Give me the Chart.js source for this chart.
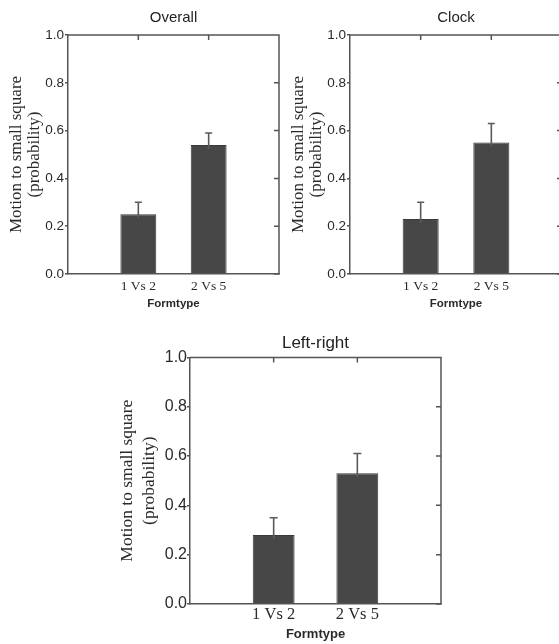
<!DOCTYPE html>
<html>
<head>
<meta charset="utf-8">
<script src="https://cdn.jsdelivr.net/npm/chart.js@4.4.0/dist/chart.umd.min.js"></script>
<style>
    html, body { margin: 0; padding: 0; background: #fff; overflow: hidden; }
    body { width: 559px; height: 644px; position: relative; }
    .panel { position: absolute; }
</style>
</head>
<body>
<div class="panel" style="left:0px;top:0px;width:290px;height:312px"><canvas id="overallChart"></canvas></div>
<div class="panel" style="left:280px;top:0px;width:292px;height:312px"><canvas id="clockChart"></canvas></div>
<div class="panel" style="left:100px;top:320px;width:360px;height:324px"><canvas id="leftRightChart"></canvas></div>
<script>
// data
const categories = ['1 Vs 2', '2 Vs 5'];
const yTicks = [0.0, 0.2, 0.4, 0.6, 0.8, 1.0];
const yLabel = ['Motion to small square', '(probability)'];
const xLabel = 'Formtype';

const overallMean = [0.25, 0.54];
const overallErrTop = [0.30, 0.59];
const clockMean = [0.23, 0.55];
const clockErrTop = [0.30, 0.63];
const leftRightMean = [0.28, 0.53];
const leftRightErrTop = [0.35, 0.61];

const SANS = "'Liberation Sans', Arial, sans-serif";
const SERIF = "'Liberation Serif', 'Times New Roman', serif";
const AXIS = '#555';
const INK = '#2a2a2a';

// empty slots on both sides so the two bars sit at 1/3 and 2/3 of the box
const slotLabels = ['', ...categories, ''];
const pad = arr => [null, ...arr, null];

// box frame (top + right), inward ticks, error bars
const framePlugin = {
    id: 'frame',
    afterDatasetsDraw(chart, args, opts) {
        const { ctx, chartArea: a, scales: { x, y } } = chart;
        ctx.save();
        ctx.strokeStyle = AXIS;
        ctx.lineWidth = 1.5;
        ctx.beginPath();
        ctx.moveTo(a.left, a.top);
        ctx.lineTo(a.right, a.top);
        ctx.lineTo(a.right, a.bottom);
        yTicks.forEach(v => {
            const py = y.getPixelForValue(v);
            ctx.moveTo(a.right, py);
            ctx.lineTo(a.right - opts.tick, py);
        });
        categories.forEach((c, i) => {
            const px = x.getPixelForValue(i + 1);
            ctx.moveTo(px, a.top);
            ctx.lineTo(px, a.top + opts.tick);
        });
        ctx.stroke();

        // error bars
        ctx.strokeStyle = '#5a5a5a';
        ctx.lineWidth = 1.6;
        const meta = chart.getDatasetMeta(0);
        ctx.beginPath();
        meta.data.forEach((bar, i) => {
            const top = opts.errTop[i];
            if (top == null) return;
            const py = y.getPixelForValue(top);
            ctx.moveTo(bar.x, bar.y + 4);
            ctx.lineTo(bar.x, py);
            ctx.moveTo(bar.x - opts.cap / 2, py);
            ctx.lineTo(bar.x + opts.cap / 2, py);
        });
        ctx.stroke();
        ctx.restore();
    }
};

function makePanel(id, title, means, errTop, g) {
    const ctx = document.getElementById(id).getContext('2d');
    return new Chart(ctx, {
        type: 'bar',
        data: {
            labels: slotLabels,
            datasets: [{
                data: pad(means),
                backgroundColor: '#474747',
                borderColor: '#3a3a3a',
                borderWidth: 1,
                categoryPercentage: 1,
                barPercentage: g.barPct
            }]
        },
        options: {
            responsive: true,
            maintainAspectRatio: false,
            animation: false,
            layout: { padding: { left: 0, right: g.padRight, top: 0, bottom: 0 } },
            scales: {
                x: {
                    type: 'category',
                    offset: false,
                    grid: { display: false, drawTicks: false },
                    border: { display: true, color: AXIS, width: 1.5 },
                    ticks: {
                        autoSkip: false,
                        maxRotation: 0,
                        padding: g.xTickPad,
                        color: INK,
                        font: { family: SERIF, size: g.xTickSize }
                    },
                    title: {
                        display: true,
                        text: xLabel,
                        color: INK,
                        font: { family: SANS, size: g.xTitleSize, weight: 'bold' },
                        padding: { top: 0, bottom: g.xTitlePad }
                    },
                    afterFit: s => { s.height = g.xHeight; }
                },
                y: {
                    min: 0,
                    max: 1,
                    afterBuildTicks: s => { s.ticks = yTicks.map(v => ({ value: v })); },
                    grid: { drawOnChartArea: false, drawTicks: true, tickLength: 3, color: AXIS, lineWidth: 1.5 },
                    border: { display: true, color: AXIS, width: 1.5 },
                    ticks: {
                        padding: g.yTickPad,
                        color: INK,
                        font: { family: SANS, size: g.yTickSize },
                        callback: v => v.toFixed(1)
                    },
                    title: {
                        display: true,
                        text: yLabel,
                        color: INK,
                        font: { family: SERIF, size: g.yTitleSize, lineHeight: g.yTitleLH },
                        padding: { top: g.yTitlePad, bottom: 0 }
                    },
                    afterFit: s => { s.width = g.yWidth; }
                }
            },
            plugins: {
                legend: { display: false },
                tooltip: { enabled: false },
                title: {
                    display: true,
                    text: title,
                    fullSize: false,
                    color: '#222',
                    font: { family: SANS, size: g.titleSize, weight: 'normal', lineHeight: 1.2 },
                    padding: { top: g.titlePadTop, bottom: g.titlePadBottom }
                },
                frame: { errTop: pad(errTop), tick: 5, cap: g.cap }
            }
        },
        plugins: [framePlugin]
    });
}

const smallPanel = {
    barPct: 0.51, padRight: 11, xHeight: 38, yWidth: 68,
    xTickPad: 4, xTickSize: 13.5, xTitleSize: 11.5, xTitlePad: 1,
    yTickPad: 1, yTickSize: 13.5, yTitleSize: 17, yTitleLH: 1.03, yTitlePad: 8,
    titleSize: 15, titlePadTop: 9, titlePadBottom: 8, cap: 7
};

makePanel('overallChart', 'Overall', overallMean, overallErrTop, smallPanel);
makePanel('clockChart', 'Clock', clockMean, clockErrTop, Object.assign({}, smallPanel, { padRight: 10, yWidth: 70, yTitlePad: 10 }));
makePanel('leftRightChart', 'Left-right', leftRightMean, leftRightErrTop, {
    barPct: 0.5, padRight: 19, xHeight: 40, yWidth: 90,
    xTickPad: 1, xTickSize: 16.5, xTitleSize: 13, xTitlePad: 2,
    yTickPad: 0, yTickSize: 16, yTitleSize: 17.5, yTitleLH: 1.26, yTitlePad: 16,
    titleSize: 17, titlePadTop: 13, titlePadBottom: 4, cap: 8
});
</script>
</body>
</html>
